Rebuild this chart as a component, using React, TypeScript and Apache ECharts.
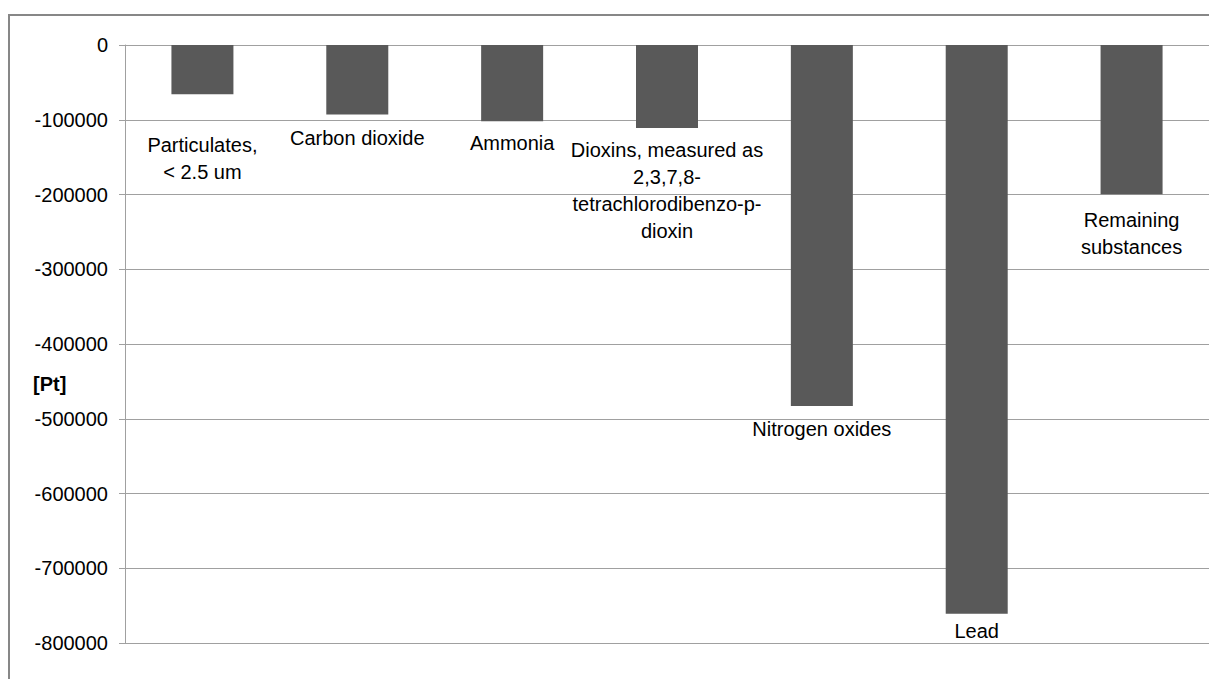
import React, { useEffect, useRef } from "react";
import * as echarts from "echarts";

const categories = [
  "Particulates,\n< 2.5 um",
  "Carbon dioxide",
  "Ammonia",
  "Dioxins, measured as\n2,3,7,8-\ntetrachlorodibenzo-p-\ndioxin",
  "Nitrogen oxides",
  "Lead",
  "Remaining\nsubstances",
];
const values = [-66000, -93000, -102000, -111000, -483000, -761000, -199700];
const yTicks = { min: -800000, max: 0, interval: 100000 };
const yUnit = "[Pt]";
const labelGap = [37, 10, 8, 9, 9, 4, 12];

export default function App() {
  const ref = useRef<HTMLDivElement>(null);
  useEffect(() => {
    if (!ref.current) return;
    const chart = echarts.init(ref.current, null, { renderer: "svg" });
    const font = "Liberation Sans, Arial, sans-serif";
    chart.setOption({
      animation: false,
      backgroundColor: "#ffffff",
      grid: { left: 125, right: 0, top: 45, bottom: 36, containLabel: false },
      xAxis: {
        type: "category",
        data: categories,
        axisLine: { show: true, onZero: true, lineStyle: { color: "#a0a0a0", width: 1 } },
        axisTick: { show: false },
        axisLabel: { show: false },
        splitLine: { show: false },
      },
      yAxis: {
        type: "value",
        min: yTicks.min,
        max: yTicks.max,
        interval: yTicks.interval,
        axisLine: { show: true, lineStyle: { color: "#a0a0a0", width: 1 } },
        axisTick: { show: true, inside: false, length: 6, lineStyle: { color: "#a0a0a0" } },
        axisLabel: {
          color: "#000",
          fontSize: 20,
          fontFamily: font,
          margin: 17,
          formatter: (v: number) => String(v),
        },
        splitLine: { show: true, lineStyle: { color: "#a0a0a0", width: 1 } },
      },
      graphic: [
        {
          type: "rect",
          silent: true,
          shape: { x: 9, y: 15, width: 1400, height: 900 },
          style: { fill: "none", stroke: "#878787", lineWidth: 2 },
          z: 100,
        },
        {
          type: "text",
          left: 33,
          top: 374,
          style: { text: yUnit, fill: "#000", font: `bold 20px ${font}` },
        },
      ],
      series: [
        {
          type: "bar",
          barWidth: 62,
          data: values.map((v, i) => ({
            value: v,
            label: { distance: labelGap[i] },
          })),
          itemStyle: { color: "#595959" },
          label: {
            show: true,
            position: "bottom",
            formatter: "{b}",
            color: "#000",
            fontSize: 20,
            fontFamily: font,
            lineHeight: 27,
            align: "center",
          },
        },
      ],
    });
    return () => chart.dispose();
  }, []);
  return (
    <div
      ref={ref}
      style={{ position: "fixed", left: 0, top: 0, width: 1209, height: 679 }}
    />
  );
}
